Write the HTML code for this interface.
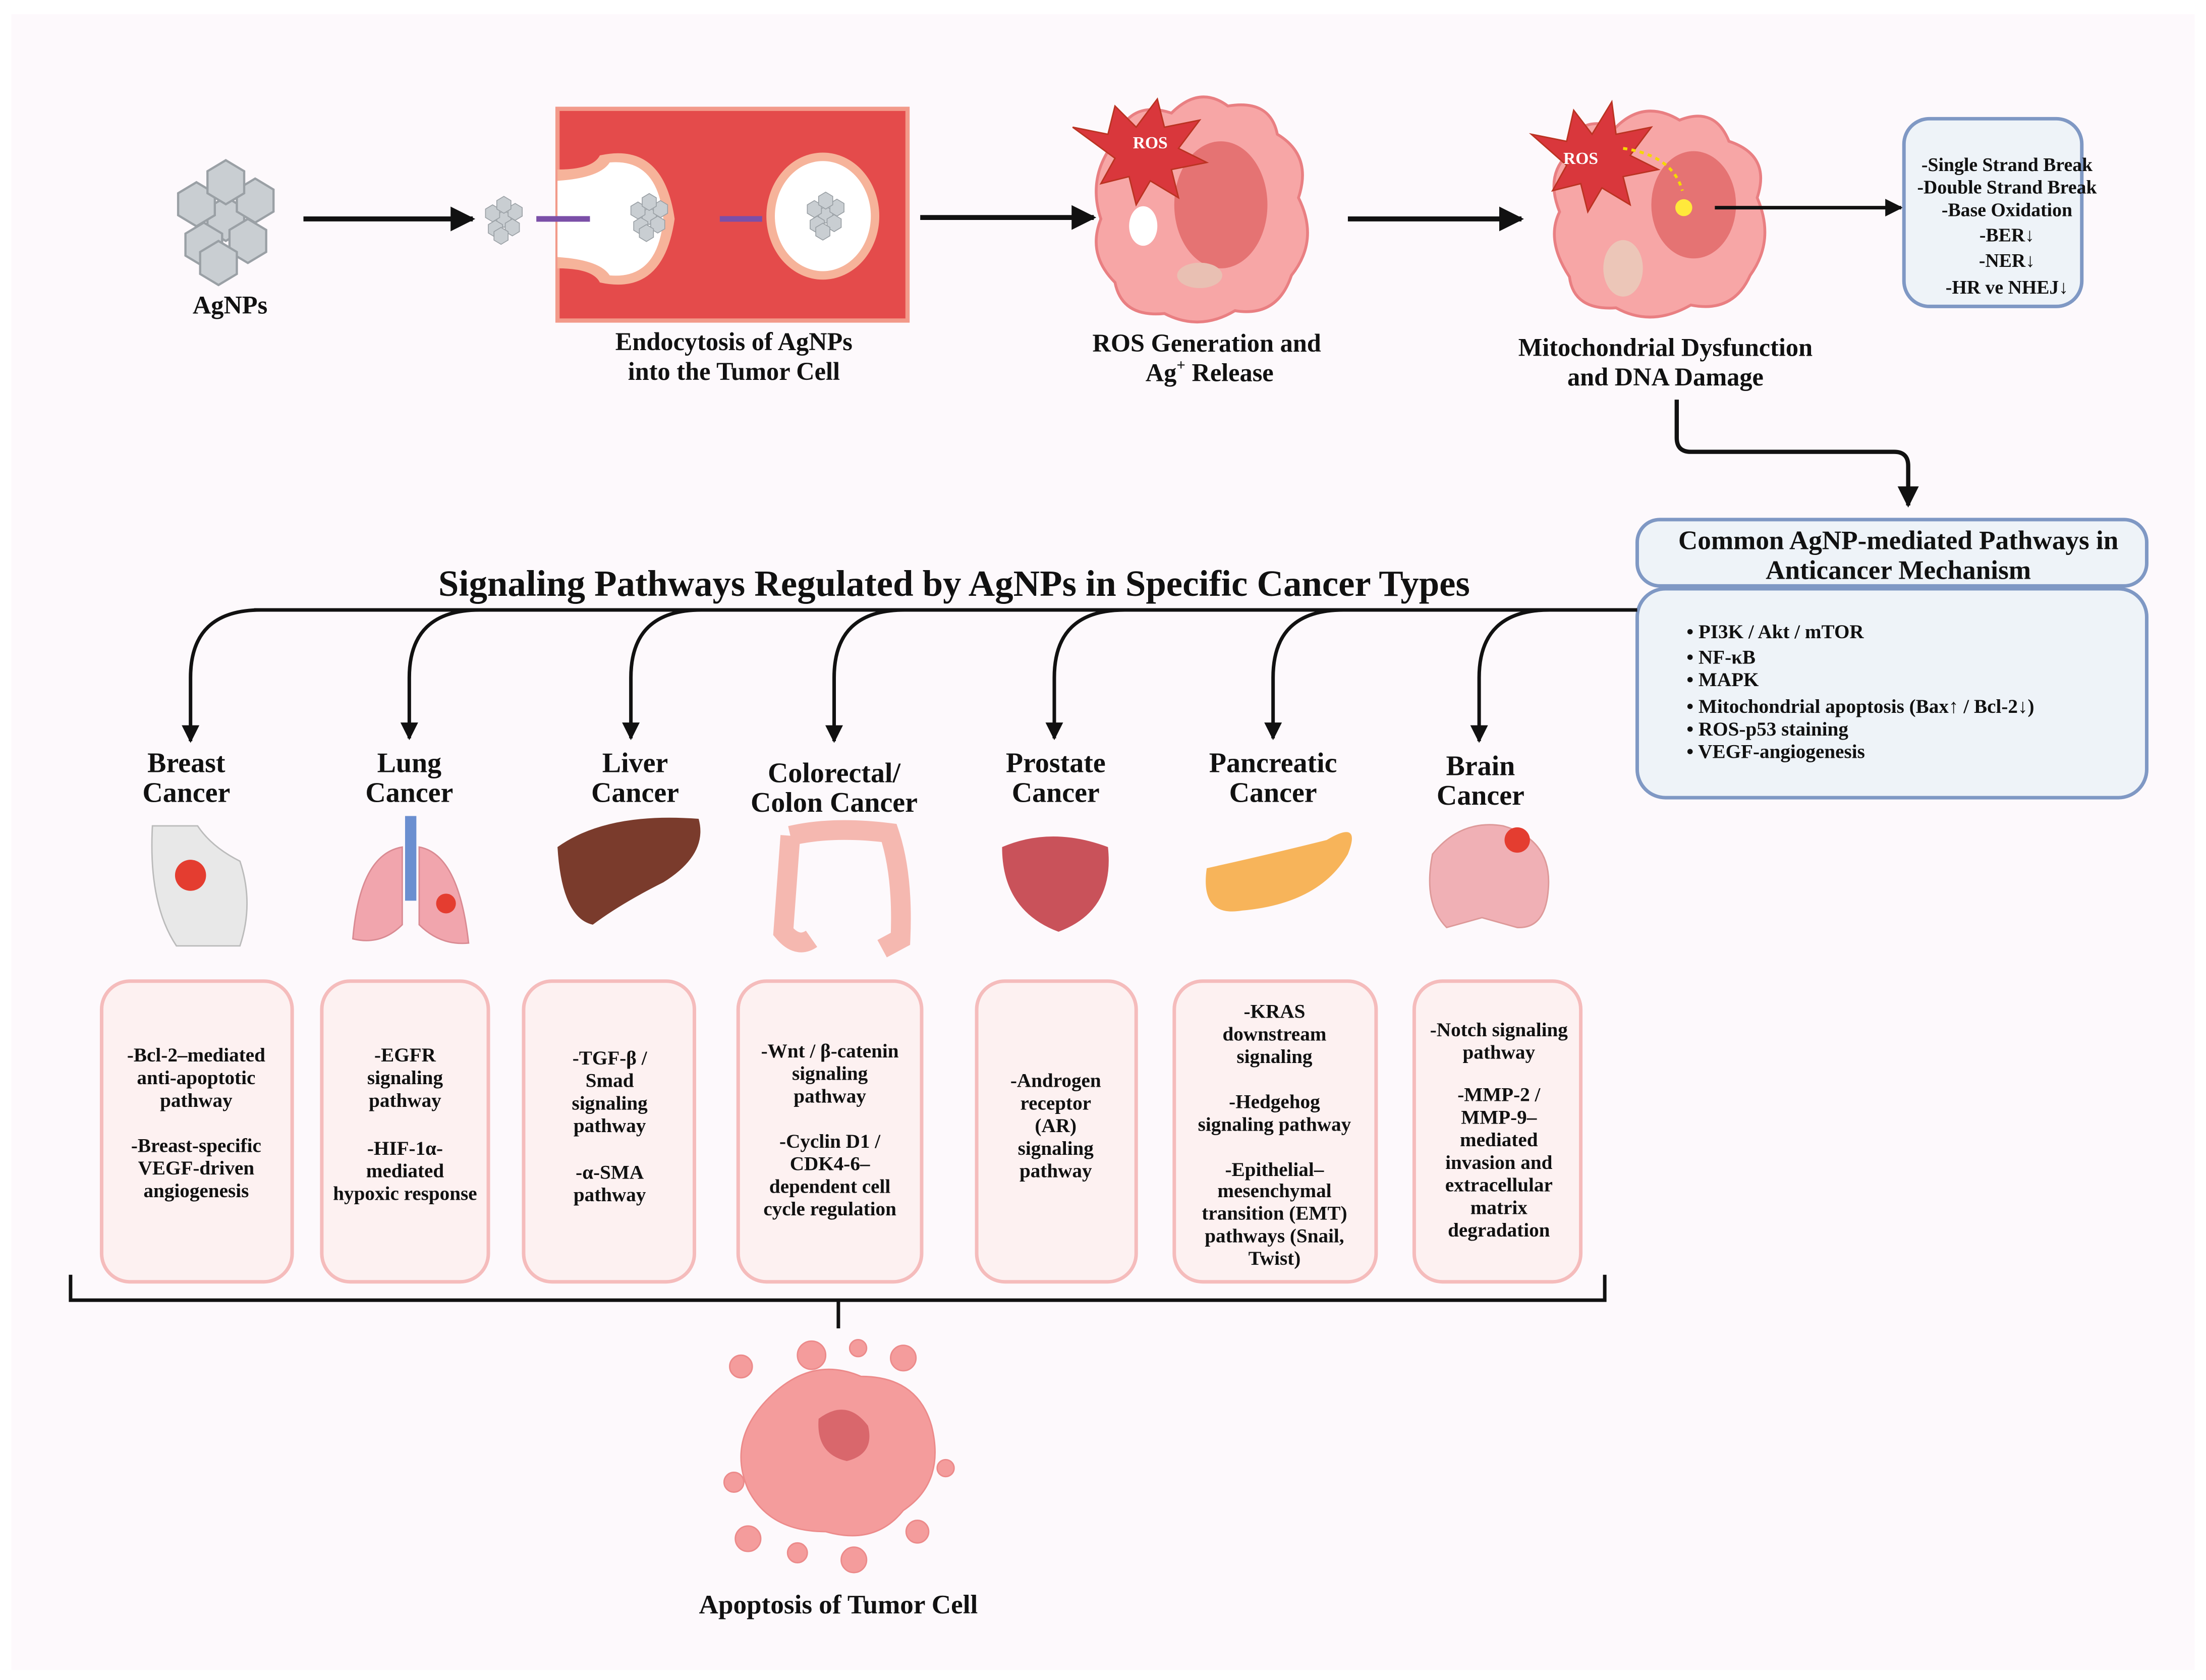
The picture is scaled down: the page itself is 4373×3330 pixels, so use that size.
<!DOCTYPE html>
<html><head><meta charset="utf-8"><style>
html,body{margin:0;padding:0;background:#fff}
svg{display:block}
text{font-family:"Liberation Serif",serif;font-weight:bold;fill:#111}
</style></head><body>
<svg width="4373" height="3330" viewBox="0 0 1563 1190" xmlns="http://www.w3.org/2000/svg">
<defs>
<marker id="ah" viewBox="0 0 10 10" refX="9" refY="5" markerWidth="5" markerHeight="5" orient="auto"><path d="M0,0 L10,5 L0,10 z" fill="#111"/></marker>
<g id="np"><polygon points="0,-6 5,-3 5,3 0,6 -5,3 -5,-3" fill="#c9ced2" stroke="#9aa0a5" stroke-width="0.6"/></g>
<g id="cl"><use href="#np" x="0" y="0"/><use href="#np" x="8" y="-5"/><use href="#np" x="-8" y="-4"/><use href="#np" x="6" y="6"/><use href="#np" x="-6" y="7"/><use href="#np" x="0" y="-10"/><use href="#np" x="-2" y="12"/></g>
</defs>
<rect x="0" y="0" width="1563" height="1190" fill="#fff"/>
<rect x="8" y="10" width="1547" height="1173" fill="#fdf9fc"/>

<!-- AgNPs -->
<g transform="translate(160,155) scale(2.6)"><use href="#cl"/></g>
<text x="163" y="222" font-size="18" text-anchor="middle">AgNPs</text>
<line x1="215" y1="155" x2="335" y2="155" stroke="#111" stroke-width="3.5" marker-end="url(#ah)"/>
<g transform="translate(357,155)"><use href="#cl"/></g>

<!-- endocytosis -->
<rect x="395" y="77" width="248" height="150" fill="#e44b4b" stroke="#f29a8a" stroke-width="3"/>
<path d="M395,120 Q420,120 425,110 Q470,100 478,155 Q470,210 425,200 Q420,190 395,190 Z" fill="#f6b39a"/>
<path d="M395,128 Q425,126 432,115 Q466,112 470,155 Q466,198 432,195 Q425,184 395,182 Z" fill="#fff"/>
<ellipse cx="583" cy="153" rx="40" ry="45" fill="#f6b39a"/>
<ellipse cx="583" cy="153" rx="34" ry="39" fill="#fff"/>
<g transform="translate(460,153)"><use href="#cl"/></g>
<g transform="translate(585,152)"><use href="#cl"/></g>
<line x1="380" y1="155" x2="418" y2="155" stroke="#7b4fa8" stroke-width="4"/>
<line x1="510" y1="155" x2="540" y2="155" stroke="#7b4fa8" stroke-width="4"/>
<text x="520" y="248" font-size="18" text-anchor="middle">Endocytosis of AgNPs</text>
<text x="520" y="269" font-size="18" text-anchor="middle">into the Tumor Cell</text>
<line x1="652" y1="154" x2="775" y2="154" stroke="#111" stroke-width="3.5" marker-end="url(#ah)"/>

<!-- ROS cell -->
<path d="M790,100 Q800,70 830,80 Q850,60 870,75 Q900,70 905,95 Q930,110 920,140 Q935,170 915,195 Q905,225 875,220 Q850,235 825,222 Q795,225 790,200 Q770,180 780,155 Q770,125 790,100Z" fill="#f7a6a6" stroke="#e97f82" stroke-width="2"/>
<ellipse cx="865" cy="145" rx="33" ry="45" fill="#e57373"/>
<ellipse cx="810" cy="160" rx="10" ry="14" fill="#fff"/>
<ellipse cx="850" cy="195" rx="16" ry="9" fill="#e9c0b3"/>
<path d="M760,90 L785,95 L790,75 L805,90 L820,70 L825,90 L850,85 L835,105 L855,115 L830,120 L835,140 L815,128 L805,145 L800,125 L780,130 L790,112 Z" fill="#d9373c" stroke="#b32"/>
<text x="815" y="105" font-size="12" fill="#fff" style="fill:#fff" text-anchor="middle">ROS</text>
<text x="855" y="249" font-size="18" text-anchor="middle">ROS Generation and</text>
<text x="857" y="270" font-size="18" text-anchor="middle">Ag<tspan font-size="11" dy="-8">+</tspan><tspan dy="8"> Release</tspan></text>
<line x1="955" y1="155" x2="1078" y2="155" stroke="#111" stroke-width="3.5" marker-end="url(#ah)"/>

<!-- mito cell -->
<path d="M1110,110 Q1115,80 1145,90 Q1165,70 1190,85 Q1215,75 1225,100 Q1255,110 1245,140 Q1258,170 1240,195 Q1228,222 1198,216 Q1170,232 1145,218 Q1115,220 1112,196 Q1095,170 1105,150 Q1095,125 1110,110Z" fill="#f7a6a6" stroke="#e97f82" stroke-width="2"/>
<ellipse cx="1200" cy="145" rx="30" ry="38" fill="#e57373"/>
<ellipse cx="1150" cy="190" rx="14" ry="20" fill="#ecc6b8"/>
<path d="M1085,95 L1110,100 L1115,78 L1128,95 L1142,72 L1145,95 L1170,90 L1155,110 L1175,120 L1150,125 L1155,145 L1135,133 L1125,150 L1120,130 L1100,135 L1110,117 Z" fill="#d9373c" stroke="#b32"/>
<text x="1120" y="116" font-size="12" style="fill:#fff" text-anchor="middle">ROS</text>
<circle cx="1193" cy="147" r="6" fill="#ffe93b"/>
<path d="M1150,105 Q1185,110 1192,135" fill="none" stroke="#f5d800" stroke-width="2" stroke-dasharray="3,3"/>
<text x="1180" y="252" font-size="18" text-anchor="middle">Mitochondrial Dysfunction</text>
<text x="1180" y="273" font-size="18" text-anchor="middle">and DNA Damage</text>
<line x1="1215" y1="147" x2="1347" y2="147" stroke="#111" stroke-width="2.5" marker-end="url(#ah)"/>

<rect x="1349" y="84" width="126" height="133" rx="18" fill="#eef3f8" stroke="#7f98c4" stroke-width="2.5"/>
<g font-size="13.5" text-anchor="middle">
<text x="1422" y="121">-Single Strand Break</text>
<text x="1422" y="137">-Double Strand Break</text>
<text x="1422" y="153">-Base Oxidation</text>
<text x="1422" y="171">-BER↓</text>
<text x="1422" y="189">-NER↓</text>
<text x="1422" y="208">-HR ve NHEJ↓</text>
</g>

<path d="M1188,283 L1188,310 Q1188,320 1198,320 L1342,320 Q1352,320 1352,330 L1352,358" fill="none" stroke="#111" stroke-width="3" marker-end="url(#ah)"/>

<rect x="1160" y="368" width="361" height="47" rx="16" fill="#eef3f8" stroke="#7f98c4" stroke-width="2.5"/>
<text x="1345" y="389" font-size="19" text-anchor="middle">Common AgNP-mediated Pathways in</text>
<text x="1345" y="410" font-size="19" text-anchor="middle">Anticancer Mechanism</text>
<rect x="1160" y="417" width="361" height="148" rx="20" fill="#eef3f8" stroke="#7f98c4" stroke-width="2.5"/>
<g font-size="14">
<text x="1195" y="452">•  PI3K / Akt / mTOR</text>
<text x="1195" y="470">•  NF-κB</text>
<text x="1195" y="486">•  MAPK</text>
<text x="1195" y="505">•  Mitochondrial apoptosis (Bax↑ / Bcl-2↓)</text>
<text x="1195" y="521">•  ROS-p53 staining</text>
<text x="1195" y="537">•  VEGF-angiogenesis</text>
</g>

<text x="676" y="422" font-size="26" text-anchor="middle">Signaling Pathways Regulated by AgNPs in Specific Cancer Types</text>
<line x1="180" y1="432" x2="1160" y2="432" stroke="#111" stroke-width="2.5"/>
<g fill="none" stroke="#111" stroke-width="2.5" marker-end="url(#ah)">
<path d="M185,432 Q135,432 135,480 L135,525"/>
<path d="M340,432 Q290,432 290,480 L290,523"/>
<path d="M497,432 Q447,432 447,480 L447,523"/>
<path d="M641,432 Q591,432 591,480 L591,525"/>
<path d="M797,432 Q747,432 747,480 L747,523"/>
<path d="M952,432 Q902,432 902,480 L902,523"/>
<path d="M1098,432 Q1048,432 1048,480 L1048,525"/>
</g>

<g font-size="20" text-anchor="middle">
<text x="132" y="547">Breast</text><text x="132" y="568">Cancer</text>
<text x="290" y="547">Lung</text><text x="290" y="568">Cancer</text>
<text x="450" y="547">Liver</text><text x="450" y="568">Cancer</text>
<text x="591" y="554">Colorectal/</text><text x="591" y="575">Colon Cancer</text>
<text x="748" y="547">Prostate</text><text x="748" y="568">Cancer</text>
<text x="902" y="547">Pancreatic</text><text x="902" y="568">Cancer</text>
<text x="1049" y="549">Brain</text><text x="1049" y="570">Cancer</text>
</g>

<!-- organs -->
<path d="M108,585 Q105,640 125,670 L170,670 Q180,640 170,610 Q150,600 140,585 Z" fill="#e8e8e8" stroke="#bbb"/>
<circle cx="135" cy="620" r="11" fill="#e43d30"/>
<path d="M285,600 Q255,605 250,665 Q270,670 285,655Z M297,600 Q325,605 332,668 Q312,670 297,655Z" fill="#f1a5ad" stroke="#d98a92"/>
<rect x="287" y="578" width="8" height="60" fill="#6b8fd0"/>
<circle cx="316" cy="640" r="7" fill="#e43d30"/>
<path d="M395,600 Q430,575 495,580 Q502,605 470,625 Q440,640 420,655 Q398,650 395,600Z" fill="#7a3b2c"/>
<path d="M560,592 Q590,585 630,590 Q640,620 638,665 L625,672 M560,592 L555,660 Q565,672 575,665" fill="none" stroke="#f5b8b0" stroke-width="14"/>
<path d="M710,600 Q745,585 785,600 Q790,645 750,660 Q710,645 710,600Z" fill="#c9525a"/>
<path d="M855,615 Q900,605 940,595 Q965,580 955,605 Q935,640 880,645 Q850,650 855,615Z" fill="#f7b45a"/>
<path d="M1015,605 Q1035,580 1065,585 Q1100,595 1097,630 Q1095,658 1075,657 L1050,650 L1025,657 Q1008,640 1015,605Z" fill="#f0b0b5" stroke="#d99"/>
<circle cx="1075" cy="595" r="9" fill="#e43d30"/>

<!-- boxes -->
<g fill="#fdf1f1" stroke="#f5bcbc" stroke-width="2.5">
<rect x="72" y="695" width="135" height="213" rx="20"/>
<rect x="228" y="695" width="118" height="213" rx="20"/>
<rect x="371" y="695" width="121" height="213" rx="20"/>
<rect x="523" y="695" width="130" height="213" rx="20"/>
<rect x="692" y="695" width="113" height="213" rx="20"/>
<rect x="832" y="695" width="143" height="213" rx="20"/>
<rect x="1002" y="695" width="118" height="213" rx="20"/>
</g>
<g font-size="14" text-anchor="middle">
<text x="139" y="752">-Bcl-2–mediated</text><text x="139" y="768">anti-apoptotic</text><text x="139" y="784">pathway</text>
<text x="139" y="816">-Breast-specific</text><text x="139" y="832">VEGF-driven</text><text x="139" y="848">angiogenesis</text>
<text x="287" y="752">-EGFR</text><text x="287" y="768">signaling</text><text x="287" y="784">pathway</text>
<text x="287" y="818">-HIF-1α-</text><text x="287" y="834">mediated</text><text x="287" y="850">hypoxic response</text>
<text x="432" y="754">-TGF-β /</text><text x="432" y="770">Smad</text><text x="432" y="786">signaling</text><text x="432" y="802">pathway</text>
<text x="432" y="835">-α-SMA</text><text x="432" y="851">pathway</text>
<text x="588" y="749">-Wnt / β-catenin</text><text x="588" y="765">signaling</text><text x="588" y="781">pathway</text>
<text x="588" y="813">-Cyclin D1 /</text><text x="588" y="829">CDK4-6–</text><text x="588" y="845">dependent cell</text><text x="588" y="861">cycle regulation</text>
<text x="748" y="770">-Androgen</text><text x="748" y="786">receptor</text><text x="748" y="802">(AR)</text><text x="748" y="818">signaling</text><text x="748" y="834">pathway</text>
<text x="903" y="721">-KRAS</text><text x="903" y="737">downstream</text><text x="903" y="753">signaling</text>
<text x="903" y="785">-Hedgehog</text><text x="903" y="801">signaling pathway</text>
<text x="903" y="833">-Epithelial–</text><text x="903" y="848">mesenchymal</text><text x="903" y="864">transition (EMT)</text><text x="903" y="880">pathways (Snail,</text><text x="903" y="896">Twist)</text>
<text x="1062" y="734">-Notch signaling</text><text x="1062" y="750">pathway</text>
<text x="1062" y="780">-MMP-2 /</text><text x="1062" y="796">MMP-9–</text><text x="1062" y="812">mediated</text><text x="1062" y="828">invasion and</text><text x="1062" y="844">extracellular</text><text x="1062" y="860">matrix</text><text x="1062" y="876">degradation</text>
</g>

<path d="M50,903 L50,921 L1137,921 L1137,903 M594,921 L594,941" fill="none" stroke="#111" stroke-width="2.5"/>

<!-- apoptotic cell -->
<g fill="#f49c9c" stroke="#ec8a8a">
<path d="M545,990 Q575,960 610,975 Q650,975 660,1010 Q670,1050 640,1070 Q620,1095 585,1085 Q545,1085 530,1055 Q515,1020 545,990Z"/>
<circle cx="525" cy="968" r="8"/><circle cx="575" cy="960" r="10"/><circle cx="640" cy="962" r="9"/><circle cx="608" cy="955" r="6"/>
<circle cx="520" cy="1050" r="7"/><circle cx="530" cy="1090" r="9"/><circle cx="605" cy="1105" r="9"/><circle cx="650" cy="1085" r="8"/><circle cx="670" cy="1040" r="6"/><circle cx="565" cy="1100" r="7"/>
</g>
<path d="M580,1005 Q600,990 615,1010 Q620,1030 600,1035 Q578,1030 580,1005Z" fill="#d9676c"/>
<text x="594" y="1143" font-size="19" text-anchor="middle">Apoptosis of Tumor Cell</text>
</svg>
</body></html>
